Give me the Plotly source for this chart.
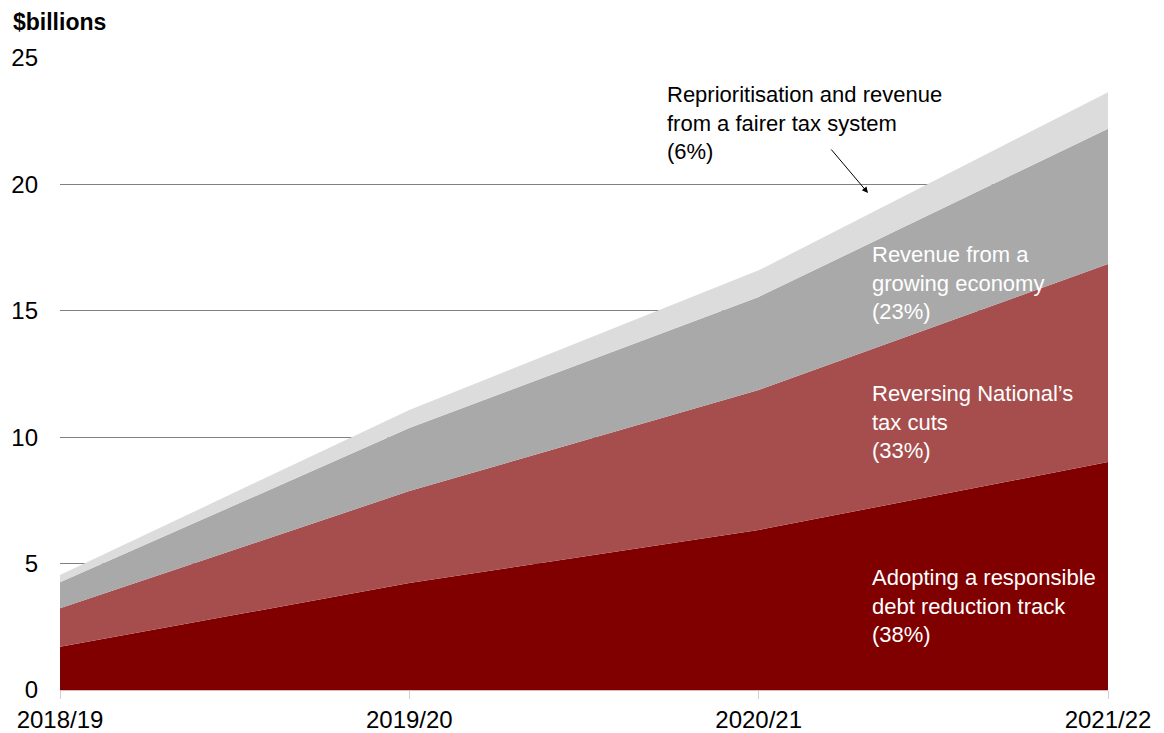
import plotly.graph_objects as go

years = ["2018/19", "2019/20", "2020/21", "2021/22"]
debt_track = [1.71, 4.23, 6.33, 9.02]
tax_cuts = [1.52, 3.64, 5.54, 7.83]
growing_economy = [1.03, 2.49, 3.68, 5.35]
fairer_tax = [0.29, 0.72, 1.05, 1.45]
y_ticks = [0, 5, 10, 15, 20, 25]

FONT = "Liberation Sans, Arial, sans-serif"
x_pos = list(range(len(years)))

series = [
    ("Adopting a responsible debt reduction track", debt_track, "#800000"),
    ("Reversing National's tax cuts", tax_cuts, "#A64D4D"),
    ("Revenue from a growing economy", growing_economy, "#A9A9A9"),
    ("Reprioritisation and revenue from a fairer tax system", fairer_tax, "#DCDCDC"),
]

fig = go.Figure()
for name, vals, col in series:
    fig.add_trace(
        go.Scatter(
            x=x_pos,
            y=vals,
            name=name,
            stackgroup="one",
            mode="lines",
            line=dict(width=0, color=col),
            fillcolor=col,
        )
    )

white = dict(family=FONT, size=22, color="white")
fig.add_annotation(x=2.318, y=16.1, text="Revenue from a<br>growing economy<br>(23%)",
                   showarrow=False, xanchor="left", yanchor="middle", align="left", font=white)
fig.add_annotation(x=2.318, y=10.6, text="Reversing National’s<br>tax cuts<br>(33%)",
                   showarrow=False, xanchor="left", yanchor="middle", align="left", font=white)
fig.add_annotation(x=2.318, y=3.32, text="Adopting a responsible<br>debt reduction track<br>(38%)",
                   showarrow=False, xanchor="left", yanchor="middle", align="left", font=white)
fig.add_annotation(x=1.732, y=22.43, text="Reprioritisation and revenue<br>from a fairer tax system<br>(6%)",
                   showarrow=False, xanchor="left", yanchor="middle", align="left",
                   font=dict(family=FONT, size=22, color="black"))
# arrow pointing at the thin top layer
fig.add_annotation(x=2.313, y=19.66, ax=-38, ay=-45, text="", showarrow=True,
                   arrowhead=2, arrowsize=1.2, arrowwidth=1, arrowcolor="black")

fig.add_annotation(xref="paper", yref="paper", x=-0.047, y=1.057, text="<b>$billions</b>",
                   showarrow=False, xanchor="left", yanchor="middle",
                   font=dict(family=FONT, size=23, color="black"))

# page body has an 8px margin, so the figure is sized/offset to compensate
fig.update_layout(
    width=1156,
    height=725,
    plot_bgcolor="white",
    paper_bgcolor="white",
    showlegend=False,
    margin=dict(l=52, r=56, t=50, b=43),
    font=dict(family=FONT, size=24, color="black"),
)
fig.update_xaxes(
    range=[0, 3],
    tickvals=x_pos,
    ticktext=years,
    showgrid=False,
    showline=True,
    linecolor="#DDB8B8",
    linewidth=1,
    ticks="outside",
    ticklen=8,
    tickcolor="#D0D0D0",
    zeroline=False,
    automargin=False,
)
fig.update_yaxes(
    range=[0, 25],
    tickvals=y_ticks,
    showgrid=True,
    gridcolor="#808080",
    gridwidth=1,
    zeroline=False,
    showline=False,
    ticks="",
    ticklabelstandoff=21,
    automargin=False,
)

fig.write_html("out.html")
